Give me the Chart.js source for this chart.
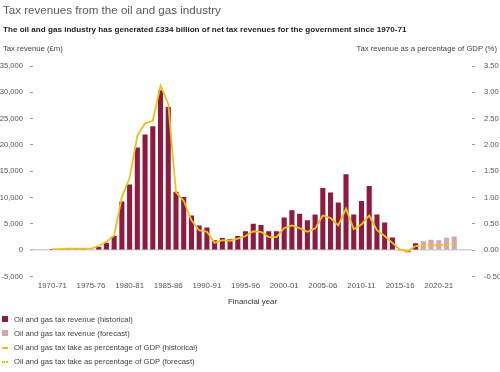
<!DOCTYPE html>
<html>
<head>
<meta charset="utf-8">
<script src="https://cdn.jsdelivr.net/npm/chart.js@4"></script>
<style>
  body { margin: 0; background: #fff; font-family: "Liberation Sans", Arial, sans-serif; }
  #wrap { position: relative; width: 500px; height: 372px; overflow: hidden; }
  #c { position: absolute; left: 0; top: 0; }
  .t { position: absolute; white-space: nowrap; line-height: 12px; }
  .title { left: 3px; top: 3px; font-size: 11.6px; color: #5a5a5a; line-height: 14px; }
  .sub { left: 3px; top: 24px; font-size: 8.1px; font-weight: bold; color: #222; }
  .axl { left: 3px; top: 43px; font-size: 7.7px; color: #444; }
  .axr { right: 3px; top: 43px; font-size: 7.7px; color: #444; }
  .leg { left: 14px; font-size: 7.7px; color: #444; }
  .sw { position: absolute; left: 2px; width: 6px; height: 6px; }
  .ln { position: absolute; height: 2px; background: #ecc01c; }
</style>
</head>
<body>
<div id="wrap">
  <canvas id="c" width="500" height="372"></canvas>
  <div class="t title">Tax revenues from the oil and gas industry</div>
  <div class="t sub">The oil and gas industry has generated £334 billion of net tax revenues for the government since 1970-71</div>
  <div class="t axl">Tax revenue (£m)</div>
  <div class="t axr">Tax revenue as a percentage of GDP (%)</div>

  <div class="sw" style="top:316px;background:#8e1b3e"></div>
  <div class="t leg" style="top:313.5px">Oil and gas tax revenue (historical)</div>
  <div class="sw" style="top:330px;background:#d5a7a9"></div>
  <div class="t leg" style="top:327.5px">Oil and gas tax revenue (forecast)</div>
  <div class="ln" style="top:347px;left:2px;width:6px"></div>
  <div class="t leg" style="top:342px">Oil and gas tax take as percentage of GDP (historical)</div>
  <div class="ln" style="top:361px;left:2px;width:2.5px"></div>
  <div class="ln" style="top:361px;left:5.5px;width:2.5px"></div>
  <div class="t leg" style="top:356px">Oil and gas tax take as percentage of GDP (forecast)</div>
</div>
<script>
// financial years, one per bar
const years = [
  '1970-71','1971-72','1972-73','1973-74','1974-75','1975-76','1976-77','1977-78','1978-79','1979-80',
  '1980-81','1981-82','1982-83','1983-84','1984-85','1985-86','1986-87','1987-88','1988-89','1989-90',
  '1990-91','1991-92','1992-93','1993-94','1994-95','1995-96','1996-97','1997-98','1998-99','1999-00',
  '2000-01','2001-02','2002-03','2003-04','2004-05','2005-06','2006-07','2007-08','2008-09','2009-10',
  '2010-11','2011-12','2012-13','2013-14','2014-15','2015-16','2016-17','2017-18','2018-19','2019-20',
  '2020-21','2021-22','2022-23'
];
const tickYears = ['1970-71','1975-76','1980-81','1985-86','1990-91','1995-96','2000-01','2005-06','2010-11','2015-16','2020-21'];

// £m, 1970-71 .. 2017-18
const revenueHist = [
  250, 100, 100, 100, 100, 150, 600, 1400, 2700, 9250,
  12500, 19500, 22000, 23550, 30400, 27200, 11100, 10100, 6600, 4700,
  4300, 1900, 2300, 2100, 2700, 3600, 5050, 4800, 3600, 3600,
  6200, 7600, 6950, 5700, 6800, 11800, 10950, 9050, 14450, 6800,
  9350, 12200, 6800, 5250, 2400, -100, -400, 1330
];
// £m, 2018-19 .. 2022-23
const revenueFcst = [1700, 2000, 1900, 2350, 2600];

// % of GDP, 1970-71 .. 2017-18
const gdpHist = [
  0.02, 0.02, 0.03, 0.03, 0.03, 0.03, 0.08, 0.16, 0.28, 1.01,
  1.37, 2.18, 2.41, 2.46, 3.13, 2.78, 1.10, 0.94, 0.57, 0.38,
  0.35, 0.14, 0.19, 0.18, 0.22, 0.27, 0.36, 0.35, 0.25, 0.25,
  0.42, 0.47, 0.42, 0.35, 0.41, 0.66, 0.61, 0.47, 0.79, 0.40,
  0.49, 0.66, 0.38, 0.27, 0.14, 0.01, -0.02, 0.08
];
// % of GDP, 2017-18 .. 2022-23 (joins the historical line)
const gdpFcst = [0.08, 0.09, 0.10, 0.09, 0.11, 0.11];

const histStart = 0;
const fcstStart = revenueHist.length;
const fcstLineStart = gdpHist.length - 1;

const pts = (arr, start) => arr.map((v, i) => ({ x: start + i, y: v }));

const maroon = '#8e1b3e';
const pink = '#d5a7a9';
const gold = '#ecc01c';
const font = { family: '"Liberation Sans", Arial, sans-serif', size: 7.6 };

new Chart(document.getElementById('c'), {
  data: {
    datasets: [
      {
        type: 'line', data: pts(gdpHist, histStart), yAxisID: 'y1',
        borderColor: gold, borderWidth: 1.8, pointRadius: 0, tension: 0, order: 0
      },
      {
        type: 'line', data: pts(gdpFcst, fcstLineStart), yAxisID: 'y1',
        borderColor: gold, borderWidth: 1.8, borderDash: [4, 2], pointRadius: 0, tension: 0, order: 0
      },
      {
        type: 'bar', data: pts(revenueHist, histStart), yAxisID: 'y',
        backgroundColor: maroon, barPercentage: 0.66, categoryPercentage: 1, grouped: false, order: 1
      },
      {
        type: 'bar', data: pts(revenueFcst, fcstStart), yAxisID: 'y',
        backgroundColor: pink, barPercentage: 0.66, categoryPercentage: 1, grouped: false, order: 1
      }
    ]
  },
  options: {
    responsive: false,
    devicePixelRatio: 1,
    animation: false,
    layout: { padding: { top: 66, bottom: 56, left: 0, right: 0 } },
    plugins: { legend: { display: false }, tooltip: { enabled: false } },
    scales: {
      x: {
        type: 'linear', position: 'bottom', min: -2.5, max: 54.3, offset: false,
        grid: { display: false, drawTicks: false },
        border: { display: false },
        ticks: {
          stepSize: 5, includeBounds: false, autoSkip: false, maxRotation: 0,
          padding: 4.5, color: '#555', font: { ...font, size: 7.9 },
          callback: v => tickYears.includes(years[v]) ? years[v] : ''
        },
        title: {
          display: true, text: 'Financial year', color: '#333',
          font: { ...font, size: 7.9 }, padding: { top: 2, bottom: 9.5 }
        }
      },
      y: {
        position: 'left', min: -5000, max: 35000,
        border: { display: false },
        grid: {
          color: c => c.tick && c.tick.value === 0 ? '#d2d2d2' : 'rgba(0,0,0,0)',
          lineWidth: c => c.tick && c.tick.value === 0 ? 1.6 : 1,
          tickColor: '#9a9a9a', tickLength: 3, tickWidth: 1
        },
        ticks: {
          stepSize: 5000, padding: 7, color: '#555', font,
          callback: v => v.toLocaleString('en-GB')
        },
        afterFit: s => { s.width = 33; }
      },
      y1: {
        position: 'right', min: -0.5, max: 3.5,
        border: { display: false },
        grid: { drawOnChartArea: false, tickColor: '#9a9a9a', tickLength: 3, tickWidth: 1 },
        ticks: {
          stepSize: 0.5, padding: 9, color: '#555', font,
          callback: v => v.toFixed(2)
        },
        afterFit: s => { s.width = 28; }
      }
    }
  }
});
</script>
</body>
</html>
